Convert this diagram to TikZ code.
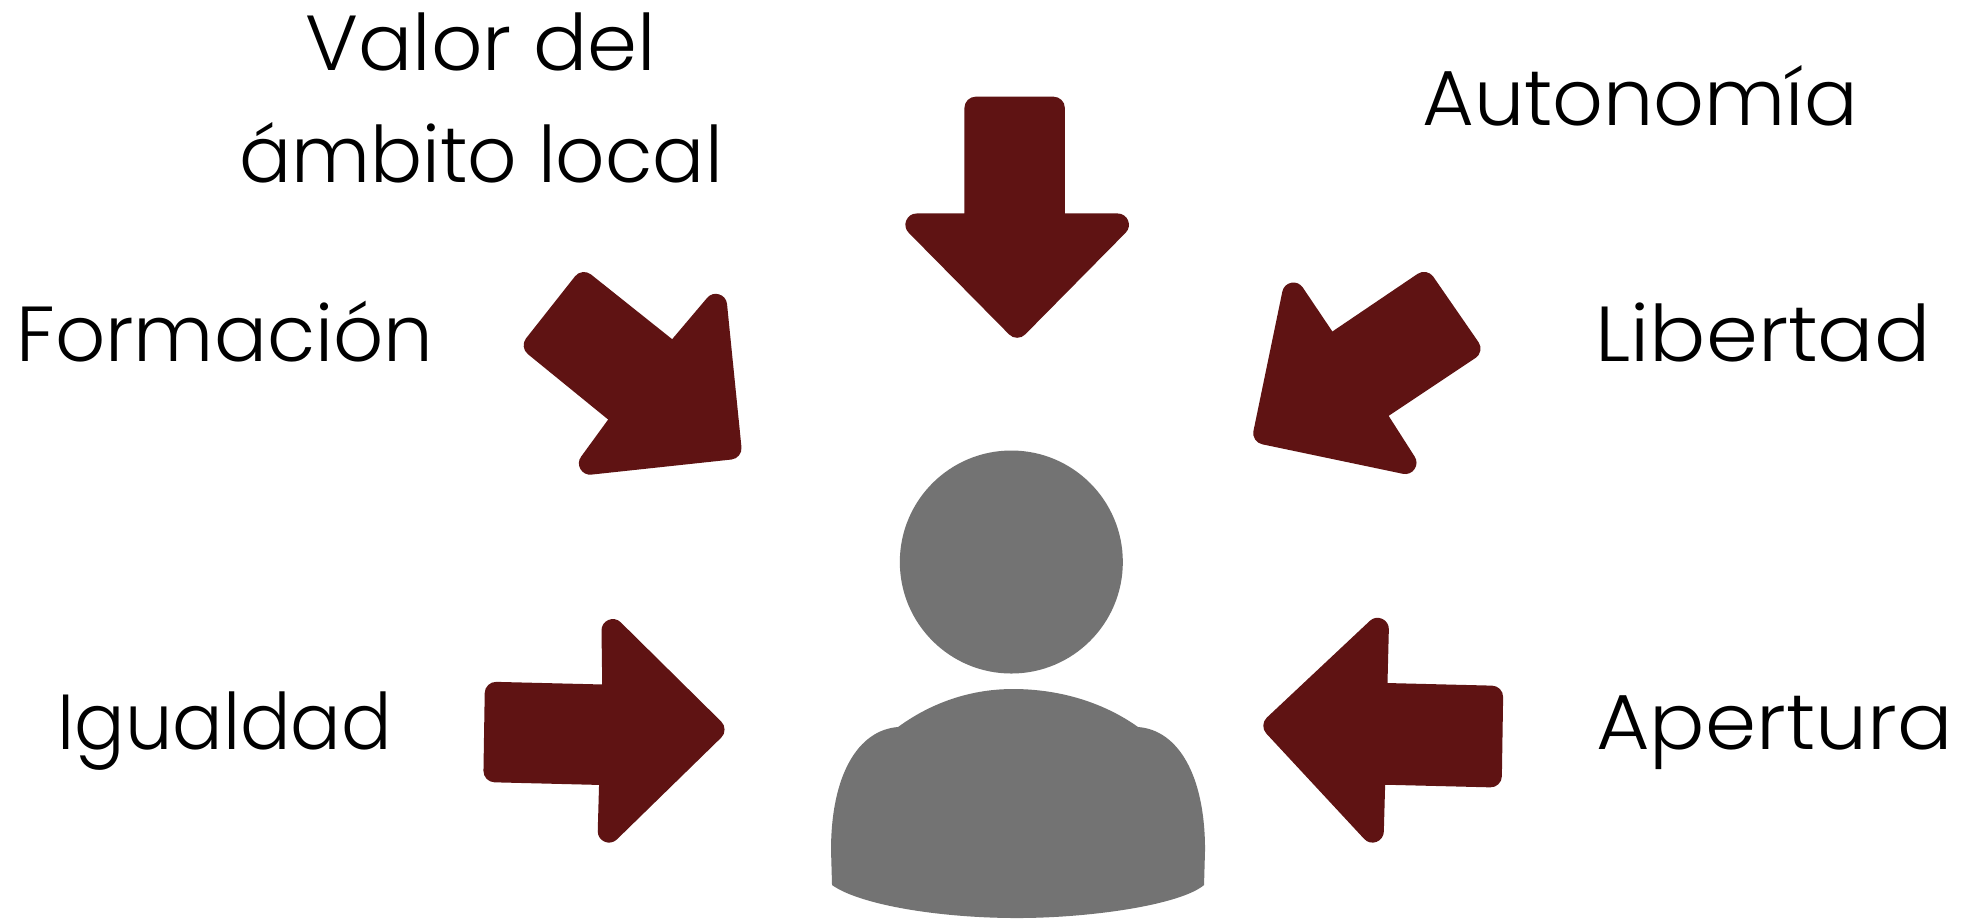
\documentclass[tikz,border=0pt]{standalone}
\usepackage{fontspec}
\setmainfont{Poppins}[UprightFont=* Light]
\definecolor{arrowred}{HTML}{5F1313}
\definecolor{persongray}{HTML}{737373}
\tikzset{
  lab/.style={anchor=base,inner sep=0pt,text=black,font=\fontsize{78}{112}\selectfont},
  arr/.style={fill=arrowred,draw=arrowred,line width=22.6pt,line join=round},
  person/.style={fill=persongray,draw=none}
}
\begin{document}
\begin{tikzpicture}[x=1.2557pt,y=-1.2557pt]
\useasboundingbox[fill=white] (0,0) rectangle (1568,732.6);
% labels
\node[lab,anchor=center,align=center] (valor) at (383,78) {\scalebox{1.03}[1]{Valor del}\\\scalebox{0.99}[1]{ámbito local}};
\node[lab] (formacion) at (179,288) {\scalebox{1.006}[1]{Formación}};
\node[lab] (autonomia) at (1306,100) {\scalebox{1.018}[1]{Autonomía}};
\node[lab] (libertad) at (1404,288) {\scalebox{1.07}[1]{Libertad}};
\node[lab] (igualdad) at (179,597) {\scalebox{0.96}[1]{Igualdad}};
\node[lab] (apertura) at (1413,597) {\scalebox{1.053}[1]{Apertura}};
% arrows
\path[arr] (777,86) -- (839,86) -- (839,179) -- (890,179) -- (810,260) -- (730,179) -- (777,179) -- cycle;
\path[arr] (465,225.6) -- (536.5,282.6) -- (570,243) -- (581.5,357) -- (470,369) -- (496.6,332.5) -- (426,275) -- cycle;
\path[arr] (1134,225.5) -- (1170,277.6) -- (1093.5,328.6) -- (1119,368.5) -- (1007,345) -- (1030,234) -- (1058.6,276.5) -- cycle;
\path[arr] (395,552) -- (488.7,554.3) -- (488,502) -- (568,581) -- (485,662) -- (486.3,616.3) -- (394,614) -- cycle;
\path[arr] (1188,555) -- (1095.7,552.7) -- (1097,501) -- (1015,578) -- (1093,662) -- (1094.3,615.7) -- (1187,618) -- cycle;
% person
\begin{scope}[x=1pt,y=-1pt]
\fill[person] (1011.3,562) circle[radius=111.5pt];
\fill[person] (898,727) .. controls (935,700) and (975,689) .. (1013,689)
  .. controls (1055,689) and (1100,700) .. (1138,727)
  .. controls (1178,730) and (1205,775) .. (1205,850)
  -- (1204,885) .. controls (1180,905) and (1090,918) .. (1017,918)
  .. controls (940,918) and (860,905) .. (832,885)
  -- (831,850) .. controls (831,775) and (858,730) .. (898,727) -- cycle;
\end{scope}
\end{tikzpicture}
\end{document}
